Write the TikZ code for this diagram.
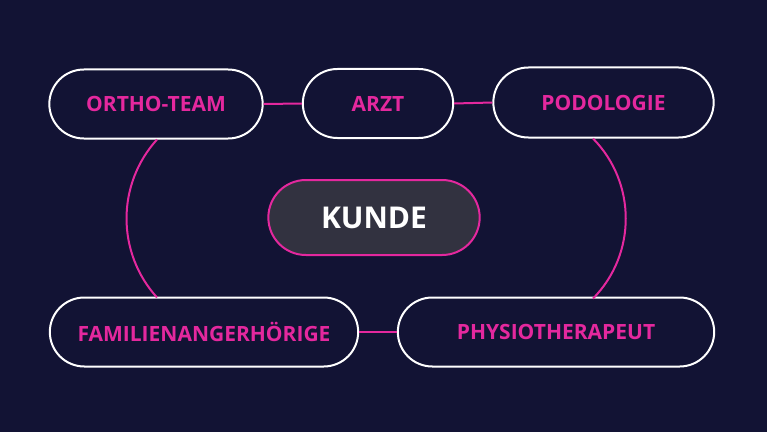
\documentclass[tikz,border=0pt]{standalone}
\usepackage{fontspec}
\setmainfont{Open Sans}
\usetikzlibrary{shapes.misc}
\definecolor{navy}{RGB}{18,19,52}
\definecolor{pink}{RGB}{228,40,158}
\definecolor{kundegray}{RGB}{50,50,64}
\begin{document}
\begin{tikzpicture}[x=1pt,y=1pt,
   box/.style={rounded rectangle, draw=white, line width=2pt, fill=navy,
     text=pink, font=\fontsize{21}{25}\selectfont\bfseries, minimum height=69pt},
   link/.style={draw=pink, line width=2pt}]
   \fill[navy] (0,0) rectangle (767,432);
   \useasboundingbox (0,0) rectangle (767,432);

   \node[box, minimum width=220pt] (ortho) at (156,328) {ORTHO-TEAM};
   \node[box, minimum width=157pt] (arzt) at (378,328.5) {ARZT};
   \node[box, minimum width=227pt, minimum height=70pt] (podo) at (603.5,329.5) {PODOLOGIE};
   \node[box, minimum width=315pt] (fam) at (204,100) {FAMILIENANGERHÖRIGE};
   \node[box, minimum width=323pt] (physio) at (556,100) {PHYSIOTHERAPEUT};
   \node[rounded rectangle, draw=pink, line width=2pt, fill=kundegray, text=white,
     font=\fontsize{30}{36}\selectfont\bfseries, minimum width=218pt, minimum height=75pt]
     (kunde) at (374,214.5) {KUNDE};

   \draw[link] (ortho.east) -- (arzt.west);
   \draw[link] (arzt.east) -- (podo.west);
   \draw[link] (fam.east) -- (physio.west);

   \draw[link] ([xshift=1pt]ortho.south) arc[start angle=137.8, end angle=222.2, radius=117.6];
   \draw[link] ([xshift=-10.5pt]podo.south) arc[start angle=44.5, end angle=-44.5, radius=114.2];
 \end{tikzpicture}
\end{document}
